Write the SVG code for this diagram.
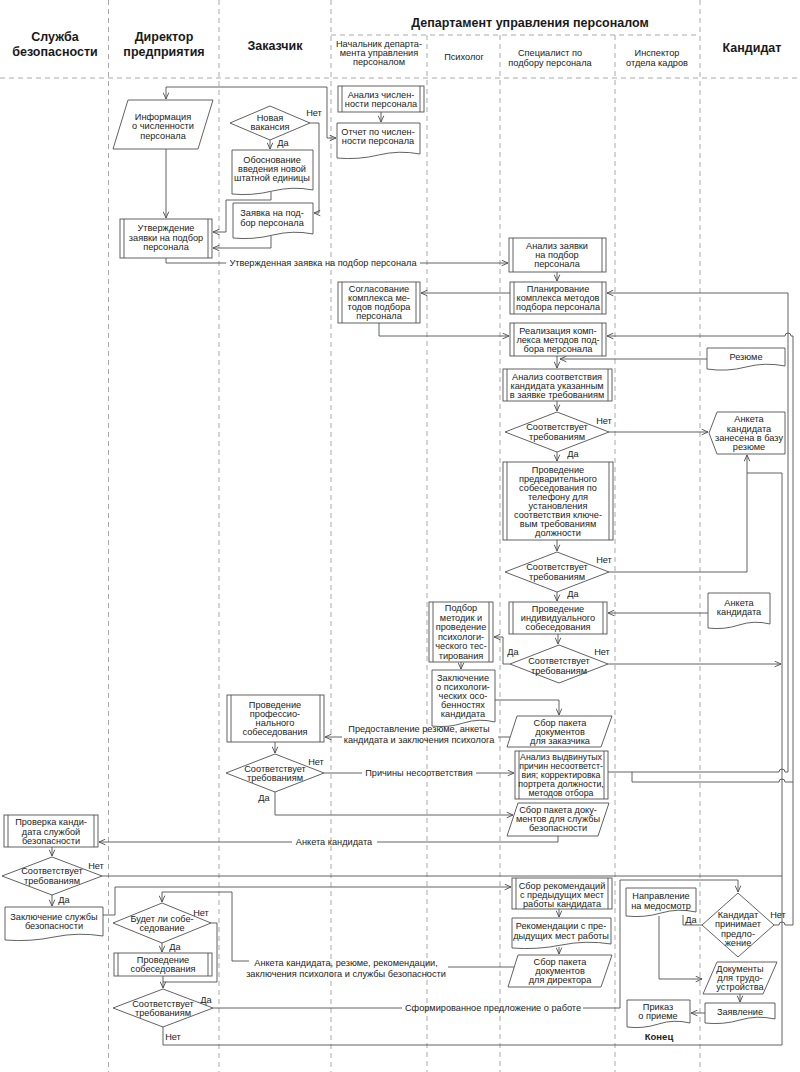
<svg xmlns="http://www.w3.org/2000/svg" width="800" height="1072" viewBox="0 0 800 1072">
<defs>
<marker id="ar" viewBox="0 0 10 10" refX="10" refY="5" markerWidth="7" markerHeight="7" markerUnits="userSpaceOnUse" orient="auto"><path d="M1,1 L10,5 L1,9" fill="none" stroke="#4d4d4d" stroke-width="1.3"/></marker>
</defs>
<style>
.n{fill:#fff;stroke:#505050;stroke-width:0.9}
.e{fill:none;stroke:#505050;stroke-width:0.9}
.ea{fill:none;stroke:#505050;stroke-width:0.9;marker-end:url(#ar)}
.l{stroke:#a0a0a0;stroke-width:0.9;stroke-dasharray:5 4;fill:none}
text{font-family:"Liberation Sans",Arial,sans-serif;font-size:9.2px;fill:#222;text-anchor:middle}
.h{font-size:12.5px;font-weight:bold;fill:#1a1a1a}
.k{font-weight:bold;font-size:9.5px}
.s{font-size:8.8px}
</style>
<rect width="800" height="1072" fill="#fff"/>
<g id="lanes">
<path class="l" d="M108.5,0V1072M219,0V1072M331,0V1072M700,0V1072M427,35V1072M500,35V1072M615,35V1072M331,35H700M0,78H800"/>
<text class="h" x="55" y="41">Служба</text><text class="h" x="55" y="56">безопасности</text>
<text class="h" x="164" y="41">Директор</text><text class="h" x="164" y="56">предприятия</text>
<text class="h" x="275" y="50">Заказчик</text>
<text class="h" x="530" y="27">Департамент управления персоналом</text>
<text x="379" y="47">Начальник департа-</text><text x="379" y="56">мента управления</text><text x="379" y="65">персоналом</text>
<text x="464" y="60">Психолог</text>
<text x="550" y="56">Специалист по</text><text x="550" y="66">подбору персонала</text>
<text x="657" y="56">Инспектор</text><text x="657" y="66">отдела кадров</text>
<text class="h" x="752" y="52">Кандидат</text>
</g>
<g id="connectors">
<path class="ea" d="M327,138V87H166V99"/>
<path class="ea" d="M327,138H336"/>
<path class="ea" d="M381,112V122"/>
<path class="ea" d="M166,149V218"/>
<path class="ea" d="M310,123H319V213H314"/>
<path class="ea" d="M270,140V149"/>
<path class="ea" d="M271,192V200H226V232H213"/>
<path class="ea" d="M271,236V248H213"/>
<path class="e" d="M166,258V263H226"/>
<path class="ea" d="M420,263H508"/>
<path class="ea" d="M557,272V281"/>
<path class="ea" d="M510,293H421"/>
<path class="ea" d="M379,323V336H509"/>
<path class="ea" d="M707,359H560"/>
<path class="ea" d="M557,356V368"/>
<path class="ea" d="M557,401V411"/>
<path class="ea" d="M609,432H708"/>
<path class="ea" d="M557,452V461"/>
<path class="ea" d="M557,540V551"/>
<path class="ea" d="M609,572H747V455"/>
<path class="ea" d="M557,592V601"/>
<path class="ea" d="M708,613H608"/>
<path class="ea" d="M558,634V644"/>
<path class="ea" d="M510,664H503V637H494"/>
<path class="ea" d="M608,664H781"/>
<path class="ea" d="M461,662V669"/>
<path class="ea" d="M495,700H559V715"/>
<path class="e" d="M510,737H498"/>
<path class="ea" d="M342,737H325"/>
<path class="ea" d="M275,742V753"/>
<path class="e" d="M324,773H362"/>
<path class="ea" d="M476,773H514"/>
<path class="ea" d="M275,792V815H513"/>
<path class="e" d="M558,836V842H377"/>
<path class="ea" d="M292,842H99"/>
<path class="ea" d="M52,847V856"/>
<path class="e" d="M102,876H782"/>
<path class="ea" d="M52,895V906"/>
<path class="ea" d="M103,915H115V887H511"/>
<path class="ea" d="M559,909V917"/>
<path class="ea" d="M559,947V954"/>
<path class="e" d="M514,967H448"/>
<path class="ea" d="M249,961H232V892H162V902"/>
<path class="e" d="M211,923H217V982H163"/>
<path class="ea" d="M162,943V952"/>
<path class="ea" d="M163,976V988"/>
<path class="e" d="M213,1008H402"/>
<path class="ea" d="M583,1008H620V880H738V892"/>
<path class="e" d="M163,1027V1045H782V473H747"/>
<path class="ea" d="M774,925H779a3,3 0 0 1 6,0H793V336H791a3,3 0 0 0 -6,0H607"/>
<path class="ea" d="M608,772H779a3,3 0 0 1 6,0H788V293H607"/>
<path class="e" d="M632,772V782H779a3,3 0 0 1 6,0H793"/>
<path class="e" d="M702,925H683V915"/>
<path class="ea" d="M659,916V979H702"/>
<path class="ea" d="M740,994V1002"/>
<path class="ea" d="M705,1013H691"/>
<text x="314" y="116">Нет</text><text x="283" y="146">Да</text>
<text x="323" y="266">Утвержденная заявка на подбор персонала</text>
<text x="604" y="424">Нет</text><text x="573" y="457">Да</text>
<text x="604" y="563">Нет</text><text x="573" y="597">Да</text>
<text x="513" y="655">Да</text><text x="602" y="655">Нет</text>
<text x="419" y="732">Предоставление резюме, анкеты</text>
<text x="419" y="743">кандидата и заключения психолога</text>
<text x="316" y="765">Нет</text><text x="264" y="801">Да</text>
<text x="419" y="776">Причины несоответствия</text>
<text x="334" y="845">Анкета кандидата</text>
<text x="96" y="869">Нет</text><text x="64" y="903">Да</text>
<text x="201" y="916">Нет</text><text x="175" y="950">Да</text>
<text x="346" y="966">Анкета кандидата, резюме, рекомендации,</text>
<text x="346" y="977">заключения психолога и службы безопасности</text>
<text x="206" y="1003">Да</text><text x="173" y="1040">Нет</text>
<text x="493" y="1011">Сформированное предложение о работе</text>
<text x="778" y="918">Нет</text><text x="691" y="923">Да</text>
</g>
<g id="n-analiz-chisl"><rect class="n" x="338" y="86" width="86" height="26"/><path class="e" d="M342,86V112M420,86V112"/><text x="381" y="97.5">Анализ числен-</text><text x="381" y="107">ности персонала</text></g>
<g id="n-otchet"><path class="n" d="M337,123H420V154Q399,150 378.5,155T337,158Z"/><text x="378" y="134.5">Отчет по числен-</text><text x="378" y="144">ности персонала</text></g>
<g id="n-info"><polygon class="n" points="128,100 213,100 198,149 113,149"/><text x="163" y="119.5">Информация</text><text x="163" y="129">о численности</text><text x="163" y="138.5">персонала</text></g>
<g id="n-utv"><rect class="n" x="120" y="219" width="92" height="39"/><path class="e" d="M124,219V258M208,219V258"/><text x="166" y="231">Утверждение</text><text x="166" y="241">заявки на подбор</text><text x="166" y="250">персонала</text></g>
<g id="n-vakans"><polygon class="n" points="230,123 270,106 310,123 270,140"/><text x="270" y="121">Новая</text><text x="270" y="130">вакансия</text></g>
<g id="n-obosn"><path class="n" d="M232,150H313V190Q293,186 272.5,191T232,194Z"/><text x="272" y="163">Обоснование</text><text x="272" y="172">введения новой</text><text x="272" y="181">штатной единицы</text></g>
<g id="n-zayavka"><path class="n" d="M233,203H313V234Q293,230 273,235T233,238Z"/><text x="272" y="216">Заявка на под-</text><text x="272" y="226">бор персонала</text></g>
<g id="n-analiz-zayav"><rect class="n" x="509" y="238" width="97" height="34"/><path class="e" d="M513,238V272M602,238V272"/><text x="557" y="249">Анализ заявки</text><text x="557" y="258">на подбор</text><text x="557" y="267">персонала</text></g>
<g id="n-plan"><rect class="n" x="510" y="282" width="96" height="32"/><path class="e" d="M514,282V314M602,282V314"/><text x="558" y="292">Планирование</text><text x="558" y="301">комплекса методов</text><text x="558" y="310">подбора персонала</text></g>
<g id="n-soglas"><rect class="n" x="338" y="282" width="82" height="41"/><path class="e" d="M342,282V323M416,282V323"/><text x="379" y="292">Согласование</text><text x="379" y="301">комплекса ме-</text><text x="379" y="310">тодов подбора</text><text x="379" y="319">персонала</text></g>
<g id="n-real"><rect class="n" x="510" y="323" width="96" height="33"/><path class="e" d="M514,323V356M602,323V356"/><text x="558" y="334">Реализация комп-</text><text x="558" y="343">лекса методов под-</text><text x="558" y="352">бора персонала</text></g>
<g id="n-resume"><path class="n" d="M707,348H785V366Q765,362 746,367T707,369Z"/><text x="746" y="360">Резюме</text></g>
<g id="n-sootv"><rect class="n" x="503" y="369" width="109" height="32"/><path class="e" d="M507,369V401M608,369V401"/><text x="557" y="380">Анализ соответствия</text><text x="557" y="389">кандидата указанным</text><text x="557" y="398">в заявке требованиям</text></g>
<g id="n-d1"><polygon class="n" points="505,432 557,412 609,432 557,452"/><text x="557" y="430">Соответствует</text><text x="557" y="440">требованиям</text></g>
<g id="n-baza"><polygon class="n" points="717,412 785,412 785,454 717,454 709,433"/><text x="749" y="422">Анкета</text><text x="749" y="431.5">кандидата</text><text x="749" y="441">занесена в базу</text><text x="749" y="450">резюме</text></g>
<g id="n-pred"><rect class="n" x="503" y="462" width="110" height="78"/><path class="e" d="M507,462V540M609,462V540"/><text x="558" y="473">Проведение</text><text x="558" y="482">предварительного</text><text x="558" y="491">собеседования по</text><text x="558" y="500">телефону для</text><text x="558" y="509">установления</text><text x="558" y="518">соответствия ключе-</text><text x="558" y="527">вым требованиям</text><text x="558" y="536">должности</text></g>
<g id="n-d2"><polygon class="n" points="505,572 557,552 609,572 557,592"/><text x="557" y="570">Соответствует</text><text x="557" y="579.5">требованиям</text></g>
<g id="n-indiv"><rect class="n" x="509" y="602" width="98" height="32"/><path class="e" d="M513,602V634M603,602V634"/><text x="558" y="612">Проведение</text><text x="558" y="621">индивидуального</text><text x="558" y="630">собеседования</text></g>
<g id="n-anketa"><path class="n" d="M708,593H770V624Q754,620 739,625T708,628Z"/><text x="739" y="606">Анкета</text><text x="739" y="615">кандидата</text></g>
<g id="n-d3"><polygon class="n" points="510,664 559,645 608,664 559,683"/><text x="559" y="664">Соответствует</text><text x="559" y="674">требованиям</text></g>
<g id="n-podbor"><rect class="n" x="429" y="602" width="64" height="60"/><path class="e" d="M433,602V662M489,602V662"/><text x="461" y="611">Подбор</text><text x="461" y="620.5">методик и</text><text x="461" y="630">проведение</text><text x="461" y="639.5">психологи-</text><text x="461" y="649">ческого тес-</text><text x="461" y="658.5">тирования</text></g>
<g id="n-zakl-psy"><path class="n" d="M432,670H495V722Q479,718 463.5,723T432,726Z"/><text x="463" y="681">Заключение</text><text x="463" y="690">о психологи-</text><text x="463" y="699">ческих осо-</text><text x="463" y="708">бенностях</text><text x="463" y="717">кандидата</text></g>
<g id="n-sbor-zak"><polygon class="n" points="517,716 612,716 601,747 507,747"/><text x="560" y="725.5">Сбор пакета</text><text x="560" y="734.5">документов</text><text x="560" y="743.5">для заказчика</text></g>
<g id="n-prof"><rect class="n" x="227" y="695" width="97" height="47"/><path class="e" d="M231,695V742M320,695V742"/><text x="275" y="708">Проведение</text><text x="275" y="717">профессио-</text><text x="275" y="726">нального</text><text x="275" y="735">собеседования</text></g>
<g id="n-d4"><polygon class="n" points="226,773 275,754 324,773 275,792"/><text x="275" y="772">Соответствует</text><text x="275" y="781">требованиям</text></g>
<g id="n-prich"><rect class="n" x="515" y="751" width="93" height="48"/><path class="e" d="M519,751V799M604,751V799"/><text class="s" x="561" y="760">Анализ выдвинутых</text><text class="s" x="561" y="769">причин несоответст-</text><text class="s" x="561" y="778">вия; корректировка</text><text class="s" x="561" y="787">портрета должности,</text><text class="s" x="561" y="796">методов отбора</text></g>
<g id="n-sbor-sb"><polygon class="n" points="518,803 609,803 598,836 507,836"/><text x="558" y="813">Сбор пакета доку-</text><text x="558" y="822">ментов для службы</text><text x="558" y="831">безопасности</text></g>
<g id="n-proverka"><rect class="n" x="4" y="815" width="94" height="32"/><path class="e" d="M8,815V847M94,815V847"/><text x="51" y="825">Проверка канди-</text><text x="51" y="835">дата службой</text><text x="51" y="844">безопасности</text></g>
<g id="n-d5"><polygon class="n" points="2,876 52,857 102,876 52,895"/><text x="52" y="874">Соответствует</text><text x="52" y="884">требованиям</text></g>
<g id="n-zakl-sb"><path class="n" d="M5,907H103V936Q78,932 54,937T5,940Z"/><text x="54" y="920">Заключение службы</text><text x="54" y="929">безопасности</text></g>
<g id="n-sbor-rek"><rect class="n" x="512" y="878" width="100" height="31"/><path class="e" d="M516,878V909M608,878V909"/><text x="562" y="889">Сбор рекомендаций</text><text x="562" y="898">с предыдущих мест</text><text x="562" y="907">работы кандидата</text></g>
<g id="n-rek"><path class="n" d="M512,918H611V944Q586,940 561.5,945T512,948Z"/><text x="561" y="929">Рекомендации с пре-</text><text x="561" y="939">дыдущих мест работы</text></g>
<g id="n-sbor-dir"><polygon class="n" points="518,955 612,955 601,987 508,987"/><text x="560" y="965">Сбор пакета</text><text x="560" y="974">документов</text><text x="560" y="983">для директора</text></g>
<g id="n-budet"><polygon class="n" points="113,923 162,903 211,923 162,943"/><text x="162" y="922">Будет ли собе-</text><text x="162" y="931">седование</text></g>
<g id="n-sobes"><rect class="n" x="114" y="953" width="98" height="23"/><path class="e" d="M118,953V976M208,953V976"/><text x="163" y="963">Проведение</text><text x="163" y="972">собеседования</text></g>
<g id="n-d6"><polygon class="n" points="113,1008 163,989 213,1008 163,1027"/><text x="163" y="1007">Соответствует</text><text x="163" y="1016">требованиям</text></g>
<g id="n-napr"><path class="n" d="M626,888H696V912Q678,908 661,913T626,916Z"/><text x="661" y="899">Направление</text><text x="661" y="909">на медосмотр</text></g>
<g id="n-kand"><polygon class="n" points="702,925 738,893 774,925 738,957"/><text x="738" y="918">Кандидат</text><text x="738" y="927">принимает</text><text x="738" y="937">предло-</text><text x="738" y="946">жение</text></g>
<g id="n-docs"><polygon class="n" points="717,962 777,962 763,994 703,994"/><text x="740" y="972">Документы</text><text x="740" y="981">для трудо-</text><text x="740" y="990">устройства</text></g>
<g id="n-zayavl"><path class="n" d="M705,1003H775V1019Q757,1015 740,1020T705,1023Z"/><text x="740" y="1015">Заявление</text></g>
<g id="n-prikaz"><path class="n" d="M627,1000H690V1023Q674,1019 658.5,1024T627,1027Z"/><text x="658" y="1010">Приказ</text><text x="658" y="1019">о приеме</text></g>
<g id="n-end"><text class="k" x="659" y="1040">Конец</text></g>
</svg>
